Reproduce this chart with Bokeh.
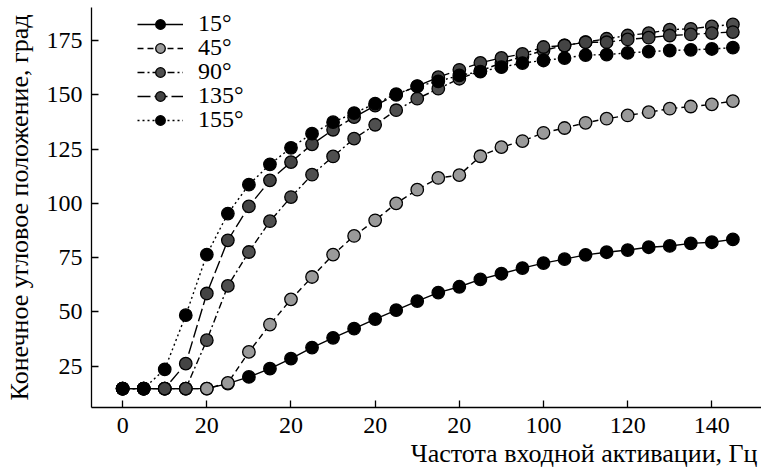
from bokeh.plotting import figure
from bokeh.models import FixedTicker, Legend, LegendItem, Title
from bokeh.embed import file_html
from bokeh.resources import INLINE

freq = [0, 5, 10, 15, 20, 25, 30, 35, 40, 45, 50, 55, 60, 65, 70, 75, 80, 85, 90, 95,
        100, 105, 110, 115, 120, 125, 130, 135, 140, 145]

s15 = [14.7, 14.7, 14.7, 14.7, 14.7, 17.0, 20.1, 23.9, 28.5, 33.6, 38.1, 42.3, 46.7, 50.8, 55.0,
       58.9, 61.6, 65.0, 67.6, 70.2, 72.5, 74.3, 76.3, 77.5, 78.5, 79.8, 80.4, 81.6, 82.1, 83.4]
s45 = [14.7, 14.7, 14.7, 14.7, 14.7, 17.3, 31.6, 44.2, 55.8, 66.1, 76.4, 85.0, 92.2, 100.0, 106.3,
       111.7, 113.0, 121.7, 125.9, 128.7, 132.5, 134.7, 137.1, 139.0, 140.5, 142.0, 143.6, 144.6, 145.6, 147.1]
s90 = [14.7, 14.7, 14.7, 14.7, 37.0, 62.0, 77.6, 91.8, 102.9, 113.2, 121.6, 129.8, 136.2, 142.9, 148.2,
       152.8, 157.4, 161.0, 164.7, 167.5, 170.4, 172.7, 174.2, 175.8, 177.3, 178.4, 180.0, 180.4, 181.5, 182.4]
s135 = [14.7, 14.7, 14.7, 26.2, 58.5, 83.0, 98.6, 110.6, 119.0, 127.2, 133.9, 139.7, 145.0, 150.0, 154.0,
        158.1, 161.5, 164.7, 167.0, 168.8, 172.0, 172.7, 174.2, 174.2, 175.5, 176.3, 177.3, 177.8, 178.4, 178.9]
s155 = [14.7, 14.7, 23.6, 48.5, 76.4, 95.3, 108.6, 118.0, 125.6, 132.1, 137.4, 141.6, 145.9, 150.3, 153.9,
        156.2, 158.9, 160.7, 162.7, 164.6, 165.8, 166.9, 168.3, 168.5, 169.3, 169.9, 170.4, 170.7, 171.1, 171.7]

series_labels = ["15°", "45°", "90°", "135°", "155°"]
x_ticks = [0, 20, 40, 60, 80, 100, 120, 140]
x_tick_labels = ["0", "20", "20", "20", "20", "100", "120", "140"]
y_ticks = [25, 50, 75, 100, 125, 150, 175]
x_title = "Частота входной активации, Гц"
y_title = "Конечное угловое положение, град"

FONT = "Liberation Serif"

p = figure(width=761, height=470, output_backend="svg", toolbar_location=None,
           x_range=(-7.4, 151.8), y_range=(6.0, 190.2),
           min_border_left=91, min_border_right=0, min_border_top=7, min_border_bottom=63)
p.outline_line_color = None
p.grid.visible = False

styles = [
    (s15, "black", "solid"),
    (s45, "#9a9a9a", "6 4"),
    (s90, "#4f4f4f", "7 3 2 3"),
    (s135, "#444444", "13 4"),
    (s155, "black", "2 3"),
]

renderers = []
for (ys, col, dash) in styles:
    ln = p.line(freq, ys, line_color="black", line_width=1.4, line_dash=dash)
    sc = p.scatter(freq, ys, size=12.5, fill_color=col, line_color="black", line_width=1.3)
    renderers.append((ln, sc))

# one legend per row for precise row spacing
row_centers = [25, 49, 73, 97, 121]
for (ln, sc), lab, cy in zip(renderers, series_labels, row_centers):
    h = 24
    lg = Legend(items=[LegendItem(label=lab, renderers=[ln, sc])],
                location=(46, 407 - cy - h / 2), glyph_width=46, glyph_height=h,
                label_height=h, spacing=0, padding=0, margin=0, label_standoff=15,
                label_text_font=FONT, label_text_font_size="24px", label_text_color="black",
                label_text_baseline="middle", label_text_line_height=0.9,
                border_line_color=None, background_fill_alpha=0)
    p.add_layout(lg)

xa = p.xaxis[0]
xa.ticker = FixedTicker(ticks=x_ticks)
xa.major_label_overrides = {t: l for t, l in zip(x_ticks, x_tick_labels)}
xa.major_label_standoff = 10
ya = p.yaxis[0]
ya.ticker = FixedTicker(ticks=y_ticks)
ya.axis_label = y_title
ya.axis_label_standoff = 10
ya.major_label_standoff = 9

for ax in (xa, ya):
    ax.major_tick_in = 7
    ax.major_tick_out = 0
    ax.minor_tick_line_color = None
    ax.axis_line_width = 1.3
    ax.major_tick_line_width = 1.3
    ax.major_label_text_font = FONT
    ax.major_label_text_font_size = "24px"
    ax.major_label_text_color = "black"
    ax.axis_label_text_font = FONT
    ax.axis_label_text_font_size = "26px"
    ax.axis_label_text_font_style = "normal"
    ax.axis_label_text_color = "black"

p.add_layout(Title(text=x_title, align="right", text_font=FONT, text_font_size="26px",
                   text_font_style="normal", text_color="black", standoff=2, offset=4),
             "below")

open("out.html", "w").write(file_html(p, INLINE))
